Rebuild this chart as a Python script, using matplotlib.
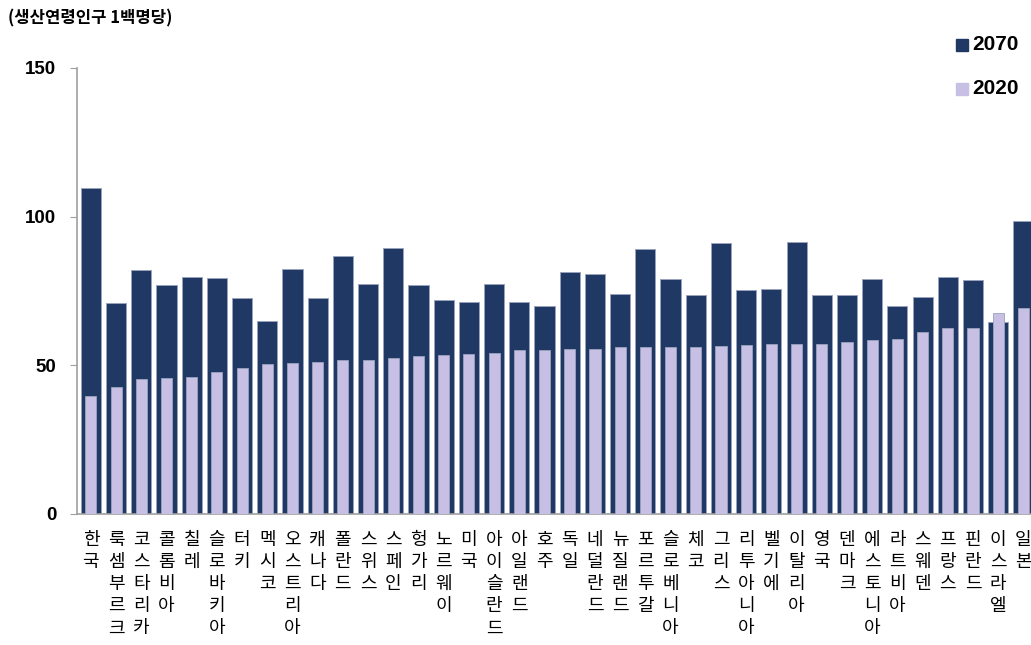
import matplotlib
matplotlib.use("Agg")
import matplotlib.pyplot as plt
import numpy as np

plt.rcParams['font.family'] = ['Noto Sans CJK KR', 'DejaVu Sans']

countries = ['한국', '룩셈부르크', '코스타리카', '콜롬비아', '칠레', '슬로바키아', '터키', '멕시코',
             '오스트리아', '캐나다', '폴란드', '스위스', '스페인', '헝가리', '노르웨이', '미국',
             '아이슬란드', '아일랜드', '호주', '독일', '네덜란드', '뉴질랜드', '포르투갈', '슬로베니아',
             '체코', '그리스', '리투아니아', '벨기에', '이탈리아', '영국', '덴마크', '에스토니아',
             '라트비아', '스웨덴', '프랑스', '핀란드', '이스라엘', '일본']

y2070 = [109.6, 70.9, 82.1, 76.9, 79.8, 79.5, 72.7, 64.9,
         82.5, 72.7, 86.8, 77.4, 89.4, 76.9, 71.9, 71.4,
         77.4, 71.4, 69.8, 81.3, 80.8, 74.0, 89.0, 79.2,
         73.5, 91.2, 75.2, 75.7, 91.6, 73.5, 73.5, 79.2,
         69.8, 73.1, 79.6, 78.7, 64.6, 98.4]

y2020 = [39.7, 42.6, 45.3, 45.6, 46.1, 47.8, 49.0, 50.3,
         50.8, 51.2, 51.7, 51.7, 52.5, 53.0, 53.5, 53.8,
         54.3, 55.2, 55.2, 55.5, 55.5, 56.1, 56.1, 56.1,
         56.1, 56.5, 56.8, 57.3, 57.3, 57.3, 57.7, 58.5,
         59.0, 61.1, 62.4, 62.4, 67.5, 69.3]

navy = '#1f3864'
lavender = '#c8c0e4'
edge = '#9aa3bd'

fig = plt.figure(figsize=(10.31, 6.45), dpi=100)
ax = fig.add_axes([77 / 1031, 1 - 514 / 645, (1031 - 77) / 1031, (514 - 68) / 645])

x = np.arange(len(countries))
ax.bar(x, y2070, width=0.8, color=navy, edgecolor=edge, linewidth=0.7, zorder=2)
ax.bar(x, y2020, width=0.44, color=lavender, edgecolor=edge, linewidth=0.6, zorder=3)

ax.set_xlim(-0.55, 37.3)
ax.set_ylim(0, 150)
ax.set_yticks([0, 50, 100, 150])
ax.set_yticklabels(['0', '50', '100', '150'], fontsize=13.5, fontweight='bold',
                   family=['Liberation Sans', 'DejaVu Sans'])
ax.tick_params(axis='y', length=5, width=0.8, color='#a0a0a0', pad=10)

ax.set_xticks(x)
ax.set_xticklabels(['\n'.join(c) for c in countries], fontsize=13,
                   linespacing=1.3, va='top')
ax.tick_params(axis='x', length=0, pad=12)

for side in ['top', 'right']:
    ax.spines[side].set_visible(False)
for side in ['left', 'bottom']:
    ax.spines[side].set_color('#a0a0a0')
    ax.spines[side].set_linewidth(1.2)

fig.text(8 / 1031, 1 - 18 / 645, '(생산연령인구 1백명당)', fontsize=12, fontweight='bold',
         va='center', ha='left')

# legend drawn as markers plus text in figure coordinates
for yy, col, lab in [(45, navy, '2070'), (89, lavender, '2020')]:
    fig.patches.append(plt.Rectangle((956 / 1031, 1 - (yy + 6) / 645), 12 / 1031, 12 / 645,
                                     transform=fig.transFigure, color=col, figure=fig))
    fig.text(972 / 1031, 1 - yy / 645, lab, fontsize=15, fontweight='bold',
             family=['Liberation Sans', 'DejaVu Sans'], va='center', ha='left')

fig.savefig('out.png', dpi=100)
